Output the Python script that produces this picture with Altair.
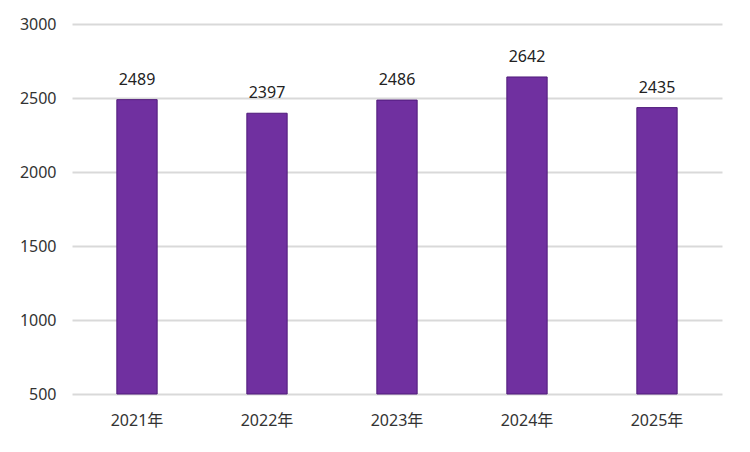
import altair as alt
import pandas as pd

years = ["2021年", "2022年", "2023年", "2024年", "2025年"]
values = [2489, 2397, 2486, 2642, 2435]

df = pd.DataFrame({"year": years, "value": values})

FONT = "Noto Sans, Noto Sans CJK SC"

base = alt.Chart(df).encode(
    x=alt.X(
        "year:N",
        sort=years,
        title=None,
        scale=alt.Scale(paddingInner=0.69, paddingOuter=0.345),
        axis=alt.Axis(
            labelAngle=0, labelFont=FONT, labelFontSize=16, labelColor="#333333",
            labelPadding=18, domain=False, ticks=False, grid=False,
        ),
    ),
    y=alt.Y(
        "value:Q",
        title=None,
        scale=alt.Scale(domain=[500, 3000], zero=False, clamp=True),
        axis=alt.Axis(
            values=[500, 1000, 1500, 2000, 2500, 3000], format="d",
            labelFont=FONT, labelFontSize=16, labelColor="#333333",
            labelPadding=16, domain=False, ticks=False,
            gridColor="#d9d9d9", gridWidth=2,
        ),
    ),
)

bars = base.mark_bar(color="#7030A0", stroke="#4f1a7a", strokeWidth=1)
labels = base.mark_text(
    dy=-20, font=FONT, fontSize=16, color="#222222"
).encode(text=alt.Text("value:Q", format="d"))

chart = (
    alt.layer(bars, labels)
    .properties(
        width=650, height=370,
        background="white",
        autosize=alt.AutoSizeParams(type="none"),
        padding={"left": 64, "top": 16, "right": 20, "bottom": 40},
    )
    .configure_view(stroke="transparent", strokeWidth=0)
)

chart.save("out.html", embed_options={"renderer": "svg", "actions": False})
